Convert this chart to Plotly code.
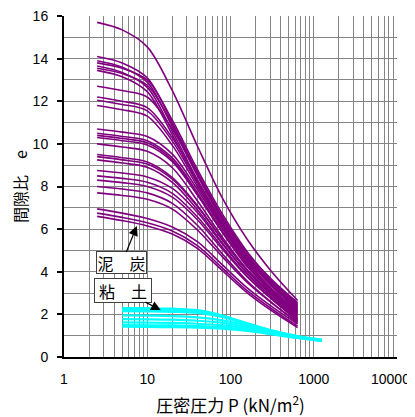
import math
import plotly.graph_objects as go

# ---------------- data ----------------
peat_p = [2.5, 5, 10, 20, 40, 80, 160, 320, 640]
peat_e = [
    [15.7, 15.35, 14.55, 12.5, 9.9, 7.45, 5.5, 3.95, 2.65],
    [14.1, 13.8, 13.1, 10.99, 8.67, 6.56, 4.87, 3.6, 2.55],
    [13.9, 13.6, 12.9, 10.81, 8.51, 6.42, 4.75, 3.49, 2.45],
    [13.8, 13.55, 13.0, 11.11, 8.8, 6.7, 4.92, 3.55, 2.5],
    [13.65, 13.35, 12.65, 10.59, 8.32, 6.26, 4.62, 3.38, 2.35],
    [13.55, 13.3, 12.75, 10.89, 8.61, 6.54, 4.78, 3.44, 2.4],
    [13.45, 13.15, 12.45, 10.42, 8.19, 6.16, 4.53, 3.32, 2.3],
    [12.7, 12.5, 12.2, 10.7, 8.6, 6.5, 4.7, 3.3, 2.2],
    [12.2, 12.0, 11.7, 10.28, 8.3, 6.31, 4.61, 3.29, 2.25],
    [12.05, 11.85, 11.55, 10.13, 8.15, 6.16, 4.46, 3.14, 2.1],
    [11.8, 11.6, 11.3, 9.93, 8.01, 6.08, 4.44, 3.16, 2.15],
    [10.7, 10.55, 10.35, 9.52, 7.86, 6.03, 4.37, 3.13, 2.05],
    [10.5, 10.35, 10.15, 9.34, 7.71, 5.91, 4.28, 3.06, 2.0],
    [10.4, 10.25, 10.05, 9.24, 7.62, 5.84, 4.22, 3.0, 1.95],
    [10.3, 10.15, 9.95, 9.17, 7.6, 5.87, 4.3, 3.12, 2.1],
    [10.0, 9.85, 9.65, 8.88, 7.33, 5.62, 4.07, 2.91, 1.9],
    [9.5, 9.35, 9.15, 8.42, 7.11, 5.5, 4.04, 2.87, 1.85],
    [9.4, 9.25, 9.05, 8.34, 7.06, 5.5, 4.08, 2.94, 1.95],
    [9.25, 9.1, 8.9, 8.19, 6.91, 5.35, 3.93, 2.79, 1.8],
    [8.75, 8.63, 8.45, 7.91, 6.78, 5.3, 3.89, 2.76, 1.75],
    [8.5, 8.38, 8.2, 7.68, 6.58, 5.15, 3.78, 2.68, 1.7],
    [8.3, 8.18, 8.0, 7.5, 6.44, 5.06, 3.75, 2.69, 1.75],
    [8.0, 7.88, 7.7, 7.21, 6.18, 4.83, 3.55, 2.52, 1.6],
    [7.7, 7.58, 7.4, 6.94, 5.96, 4.7, 3.49, 2.51, 1.65],
    [6.95, 6.75, 6.5, 6.1, 5.41, 4.32, 3.23, 2.34, 1.55],
    [6.75, 6.55, 6.3, 5.91, 5.23, 4.17, 3.1, 2.23, 1.45],
    [6.6, 6.4, 6.15, 5.77, 5.1, 4.05, 3.0, 2.14, 1.38],
]

clay_p = [5, 10, 20, 40, 80, 160, 320, 640, 1250]
clay_e = [
    [2.3, 2.29, 2.27, 2.2, 1.95, 1.58, 1.24, 0.98, 0.8],
    [2.22, 2.21, 2.19, 2.14, 1.92, 1.56, 1.23, 0.97, 0.79],
    [2.15, 2.14, 2.12, 2.07, 1.88, 1.54, 1.22, 0.96, 0.79],
    [1.95, 1.94, 1.92, 1.86, 1.72, 1.48, 1.19, 0.95, 0.78],
    [1.78, 1.77, 1.75, 1.7, 1.6, 1.41, 1.16, 0.94, 0.77],
    [1.62, 1.61, 1.6, 1.56, 1.48, 1.33, 1.12, 0.92, 0.77],
    [1.5, 1.49, 1.48, 1.45, 1.39, 1.26, 1.08, 0.9, 0.76],
    [1.42, 1.41, 1.4, 1.38, 1.33, 1.22, 1.06, 0.89, 0.76],
]

x_tickvals = [1, 10, 100, 1000, 10000]
x_ticktext = ["1", "10", "100", "1000", "10000"]
x_minor = [m * d for d in [1, 10, 100, 1000] for m in range(2, 10)]
y_tickvals = [0, 2, 4, 6, 8, 10, 12, 14, 16]

peat_label = "泥　炭"
clay_label = "粘　土"
peat_arrow_head = (7.5, 6.15)
clay_arrow_head = (14.5, 2.2)

# ---------------- figure ----------------
fig = go.Figure()
for ys in clay_e:
    fig.add_trace(go.Scatter(x=clay_p, y=ys, mode="lines",
                             line=dict(color="#00FFFF", width=2.2, shape="spline", smoothing=0.8),
                             showlegend=False, hoverinfo="skip"))
for ys in peat_e:
    fig.add_trace(go.Scatter(x=peat_p, y=ys, mode="lines",
                             line=dict(color="#800080", width=1.6, shape="spline", smoothing=0.9),
                             showlegend=False, hoverinfo="skip"))

grid = "#858585"
num_font = dict(family="Liberation Sans, Arial, sans-serif", size=14, color="black")
cjk = "Noto Sans CJK JP, sans-serif"

# the last x label sits at the page edge: draw it as an annotation nudged left
axis_ticktext = x_ticktext[:-1] + [""]

# page body has an 8px margin, so the figure is 8px smaller and margins shifted
fig.update_layout(
    width=407, height=409,
    margin=dict(l=56, r=18, t=8, b=60),
    plot_bgcolor="white", paper_bgcolor="white",
    xaxis=dict(
        type="log", range=[0, 4], automargin=False,
        tickvals=x_tickvals, ticktext=axis_ticktext,
        tickfont=num_font, ticks="", ticklabelstandoff=8,
        ticklabeloverflow="allow",
        showgrid=True, gridcolor=grid, gridwidth=1,
        minor=dict(tickvals=x_minor, showgrid=True, gridcolor=grid, gridwidth=1, ticks=""),
        showline=True, linecolor="black", linewidth=2,
        zeroline=False,
        title=dict(text="圧密圧力 P (kN/m<sup>2</sup>)",
                   font=dict(family=cjk, size=17, color="black"), standoff=15),
    ),
    yaxis=dict(
        range=[0, 16], automargin=False,
        tickvals=y_tickvals,
        tickfont=num_font, ticks="outside", ticklen=5, tickcolor="black", tickwidth=1.5,
        ticklabelstandoff=6, ticklabeloverflow="allow",
        showgrid=True, gridcolor=grid, gridwidth=1,
        minor=dict(dtick=1, showgrid=True, gridcolor=grid, gridwidth=1, ticks=""),
        showline=True, linecolor="black", linewidth=2,
        zeroline=False,
        title=dict(text="間隙比　e", font=dict(family=cjk, size=16, color="black"), standoff=10),
    ),
    annotations=[
        dict(x=math.log10(x_tickvals[-1]), y=0, xref="x", yref="paper",
             text=x_ticktext[-1], showarrow=False, xanchor="center", yanchor="top",
             xshift=-7, yshift=-12, font=num_font),
        dict(x=math.log10(peat_arrow_head[0]), y=peat_arrow_head[1], xref="x", yref="y",
             text=peat_label, showarrow=True, ax=-15, ay=37,
             arrowhead=2, arrowsize=1.6, arrowwidth=1.2, arrowcolor="black",
             font=dict(family=cjk, size=16, color="black"),
             bgcolor="white", bordercolor="#404040", borderwidth=1, borderpad=1,
             width=47, height=19),
        dict(x=math.log10(clay_arrow_head[0]), y=clay_arrow_head[1], xref="x", yref="y",
             text=clay_label, showarrow=True, ax=-38, ay=-20,
             arrowhead=2, arrowsize=1.6, arrowwidth=1.2, arrowcolor="black",
             font=dict(family=cjk, size=16, color="black"),
             bgcolor="white", bordercolor="#404040", borderwidth=1, borderpad=1,
             width=54, height=21),
    ],
)

fig.write_html("out.html")
